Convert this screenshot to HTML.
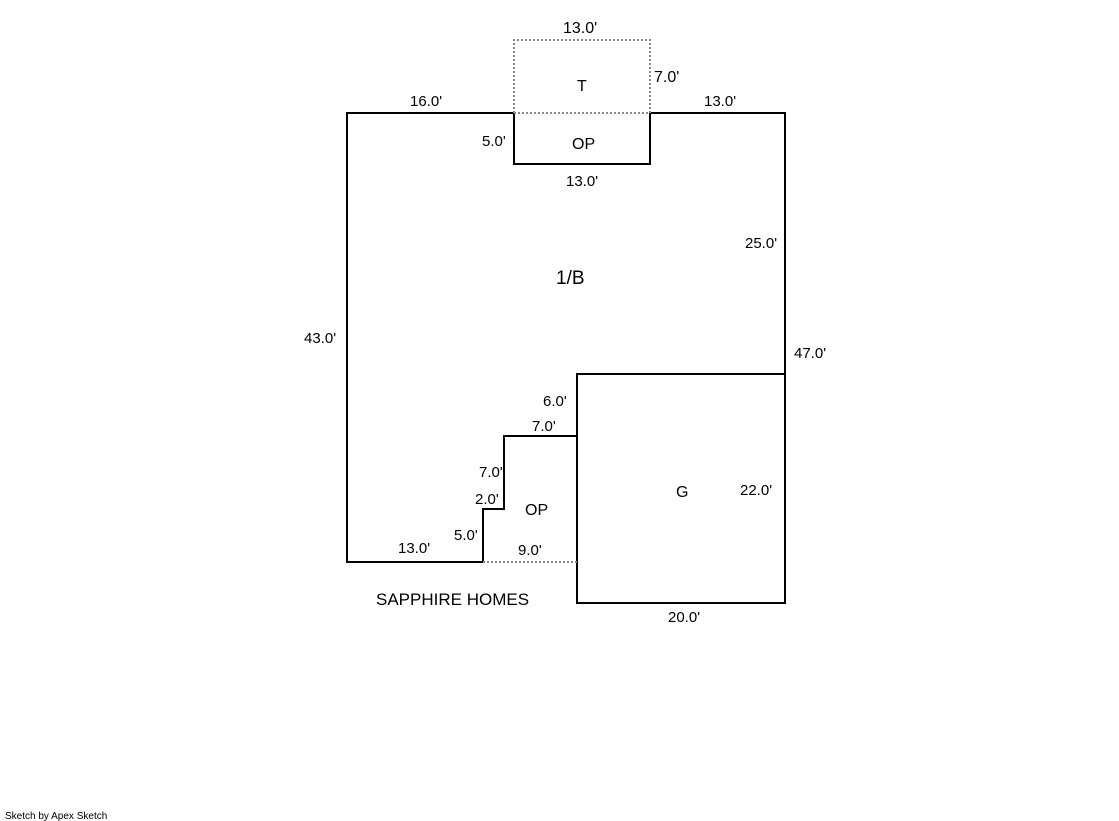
<!DOCTYPE html>
<html><head><meta charset="utf-8"><style>
html,body{margin:0;padding:0;background:#fff;}
svg{display:block;}
text{font-family:"Liberation Sans",Arial,sans-serif;font-size:15px;fill:#000;}
</style></head><body>
<svg width="1119" height="821" viewBox="0 0 1119 821" xmlns="http://www.w3.org/2000/svg">
<g fill="none" stroke="#000" stroke-width="2">
<polyline points="514,113 347,113 347,562 483,562 483,509 504,509 504,436 577,436"/>
<polyline points="650,113 785,113 785,374"/>
<rect x="577" y="374" width="208" height="229"/>
<polyline points="514,113 514,164 650,164 650,113"/>
</g>
<g fill="none" stroke="#888" stroke-width="2" stroke-dasharray="2,2">
<polyline points="514,113 514,40 650,40 650,113 514,113"/>
<line x1="483" y1="562" x2="577" y2="562"/>
</g>
<text x="563" y="33" style="font-size:16px">13.0'</text>
<text x="577" y="91" style="font-size:16px">T</text>
<text x="654" y="82" style="font-size:16px">7.0'</text>
<text x="410" y="106">16.0'</text>
<text x="704" y="106">13.0'</text>
<text x="482" y="146">5.0'</text>
<text x="572" y="149" style="font-size:16px">OP</text>
<text x="566" y="186">13.0'</text>
<text x="745" y="248">25.0'</text>
<text x="556" y="284" style="font-size:19px">1/B</text>
<text x="304" y="343">43.0'</text>
<text x="794" y="358">47.0'</text>
<text x="543" y="406">6.0'</text>
<text x="532" y="431">7.0'</text>
<text x="479" y="477">7.0'</text>
<text x="475" y="504">2.0'</text>
<text x="525" y="515" style="font-size:16px">OP</text>
<text x="676" y="497" style="font-size:16px">G</text>
<text x="740" y="495">22.0'</text>
<text x="454" y="540">5.0'</text>
<text x="398" y="553">13.0'</text>
<text x="518" y="555">9.0'</text>
<text x="376" y="605" style="font-size:17px">SAPPHIRE HOMES</text>
<text x="668" y="622">20.0'</text>
<text x="5" y="819" style="font-size:10px">Sketch by Apex Sketch</text>
</svg>
</body></html>
